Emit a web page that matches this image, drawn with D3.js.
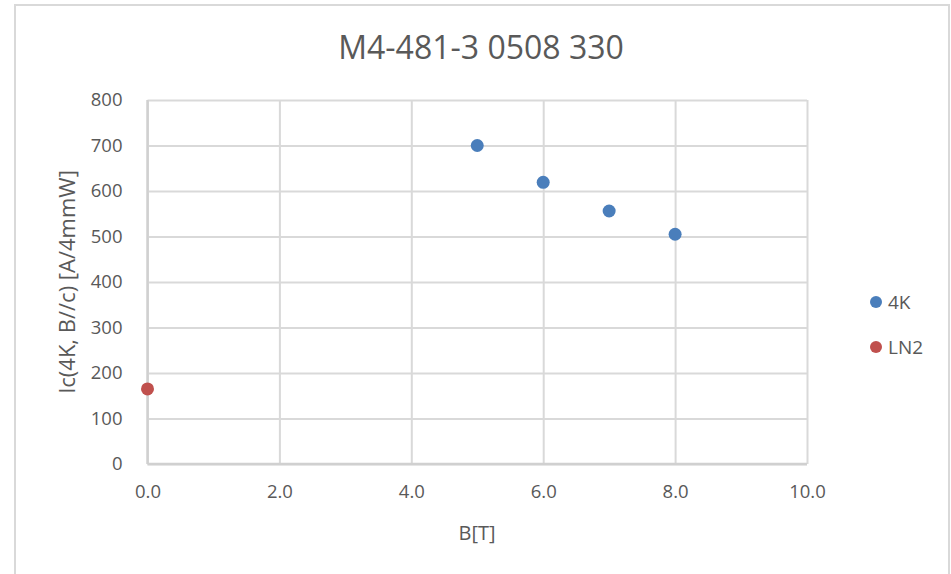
<!DOCTYPE html>
<html><head><meta charset="utf-8">
<script src="https://cdn.jsdelivr.net/npm/d3@7"></script>
<style>body{margin:0;background:#fff}svg{display:block}text{font-family:"Open Sans",sans-serif;fill:#595959}</style>
</head><body>
<script>
const title = "M4-481-3 0508 330";
const xLabel = "B[T]";
const yLabel = "Ic(4K, B//c) [A/4mmW]";
const seriesNames = ["4K", "LN2"];
const seriesColors = ["#4A7EBB", "#C0504D"];
const b4K = [5, 6, 7, 8];
const ic4K = [700, 619, 556, 505];
const bLN2 = [0];
const icLN2 = [165];
const xTicks = [0, 2, 4, 6, 8, 10];
const yTicks = [0, 100, 200, 300, 400, 500, 600, 700, 800];

const W = 951, H = 574;
const m = {l: 147.5, r: 807, t: 100, b: 464};
const svg = d3.select("body").append("svg").attr("width", W).attr("height", H);
svg.append("rect").attr("x", 15).attr("y", 5).attr("width", 934).attr("height", 580)
  .attr("fill", "#fff").attr("stroke", "#d9d9d9").attr("stroke-width", 2);

const x = d3.scaleLinear().domain([0, 10]).range([m.l, m.r]);
const y = d3.scaleLinear().domain([0, 800]).range([m.b, m.t]);

const gx = svg.append("g").attr("transform", `translate(0,${m.b})`)
  .call(d3.axisBottom(x).tickValues(xTicks).tickFormat(d3.format(".1f")).tickSize(-(m.b - m.t)).tickPadding(21));
const gy = svg.append("g").attr("transform", `translate(${m.l},0)`)
  .call(d3.axisLeft(y).tickValues(yTicks).tickSize(-(m.r - m.l)).tickPadding(25));
[gx, gy].forEach(g => {
  g.select(".domain").remove();
  g.selectAll(".tick line").attr("stroke", "#d9d9d9").attr("stroke-width", 2);
  g.selectAll(".tick text").attr("font-size", 18.5).style("fill", "#595959")
   .style("font-family", '"Open Sans",sans-serif');
});
gx.selectAll(".tick text").attr("dy", "0.71em");
svg.append("line").attr("x1", m.l).attr("x2", m.r).attr("y1", m.b).attr("y2", m.b).attr("stroke", "#d0d0d0").attr("stroke-width", 2.5);
svg.append("line").attr("x1", m.l).attr("x2", m.l).attr("y1", m.t).attr("y2", m.b).attr("stroke", "#d0d0d0").attr("stroke-width", 2.5);

svg.append("text").attr("x", 481).attr("y", 59).attr("text-anchor", "middle").attr("font-size", 32).text(title);
svg.append("text").attr("x", 477).attr("y", 540).attr("text-anchor", "middle").attr("font-size", 20).text(xLabel);
svg.append("text").attr("transform", "translate(75,282) rotate(-90)").attr("text-anchor", "middle").attr("font-size", 22).text(yLabel);

const series = [
  {name: seriesNames[0], color: seriesColors[0], xs: b4K, ys: ic4K},
  {name: seriesNames[1], color: seriesColors[1], xs: bLN2, ys: icLN2}
];
series.forEach((s, i) => {
  svg.append("g").selectAll("circle").data(s.xs.map((v, j) => [v, s.ys[j]])).join("circle")
    .attr("cx", d => x(d[0])).attr("cy", d => y(d[1])).attr("r", 6.5).attr("fill", s.color);
  const ly = 302 + i * 45;
  svg.append("circle").attr("cx", 876).attr("cy", ly).attr("r", 6).attr("fill", s.color);
  svg.append("text").attr("x", 888).attr("y", ly).attr("dy", "0.35em").attr("font-size", 19).text(s.name);
});
</script>
</body></html>
